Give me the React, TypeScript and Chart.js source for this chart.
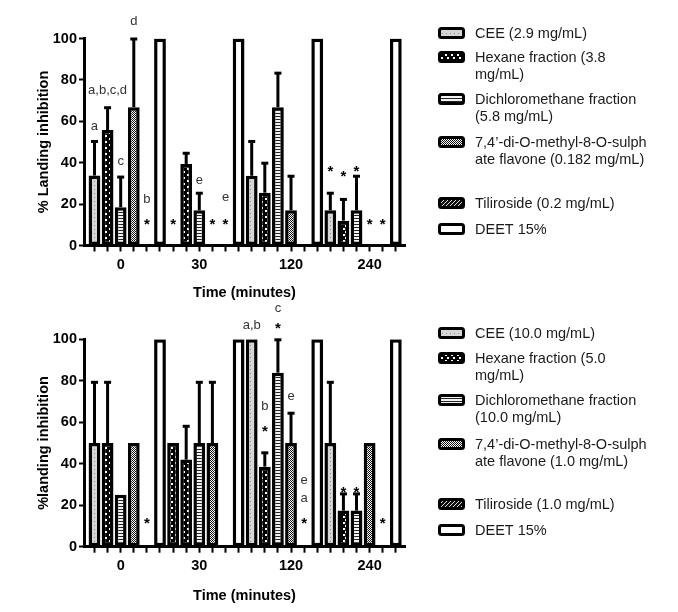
import React, { useEffect, useRef } from 'react';
import { Chart, registerables } from 'chart.js';

Chart.register(...registerables);

// ---------- data ----------
const TIME_GROUPS = ['0', '30', '120', '240'];
const GROUP_LABEL_SLOTS = [2, 8, 15, 21];

const TOP_LEGEND = [
  ['CEE (2.9 mg/mL)'],
  ['Hexane fraction (3.8', 'mg/mL)'],
  ['Dichloromethane fraction', '(5.8 mg/mL)'],
  ['7,4\u2019-di-O-methyl-8-O-sulph', 'ate flavone (0.182 mg/mL)'],
  ['Tiliroside (0.2 mg/mL)'],
  ['DEET 15%'],
];
const BOTTOM_LEGEND = [
  ['CEE (10.0 mg/mL)'],
  ['Hexane fraction (5.0', 'mg/mL)'],
  ['Dichloromethane fraction', '(10.0 mg/mL)'],
  ['7,4\u2019-di-O-methyl-8-O-sulph', 'ate flavone (1.0 mg/mL)'],
  ['Tiliroside (1.0 mg/mL)'],
  ['DEET 15%'],
];

// top panel values (per time group)
const TOP_CEE = [33.8, 0, 33.7, 17];
const TOP_HEX = [55.8, 39.4, 25.5, 12];
const TOP_DCM = [18.5, 17, 66.8, 17];
const TOP_FLA = [66.8, 0, 17, 0];
const TOP_TIL = [0, 0, 0, 0];
const TOP_DEET = [100, 100, 100, 100];
// upper error (value reached by error bar)
const TOP_CEE_ERR = [50.5, null, 50.5, 25.5];
const TOP_HEX_ERR = [66.8, 44.8, 40, 22.5];
const TOP_DCM_ERR = [33.3, 25.5, 83.5, 33.7];
const TOP_FLA_ERR = [100, null, 33.7, null];

// bottom panel values
const BOT_CEE = [50, 50, 100, 50];
const BOT_HEX = [50, 42, 38.6, 17.4];
const BOT_DCM = [25, 50, 83.9, 17.4];
const BOT_FLA = [50, 50, 50, 50];
const BOT_TIL = [0, 0, 0, 0];
const BOT_DEET = [100, 100, 100, 100];
const BOT_CEE_ERR = [79.5, null, null, 79.5];
const BOT_HEX_ERR = [79.5, 58.3, 45.5, 25.7];
const BOT_DCM_ERR = [null, 79.5, 100, 25.7];
const BOT_FLA_ERR = [null, 79.5, 64.6, null];

// annotations: series index, group index, text, value level
const TOP_NOTES = [
  { s: 0, g: 0, t: 'a', v: 58 },
  { s: 1, g: 0, t: 'a,b,c,d', v: 75 },
  { s: 2, g: 0, t: 'c', v: 41 },
  { s: 3, g: 0, t: 'd', v: 108.6 },
  { s: 4, g: 0, t: 'b', v: 22.5 },
  { s: 4, g: 0, t: '*', v: 12.3 },
  { s: 0, g: 1, t: '*', v: 12.3 },
  { s: 2, g: 1, t: 'e', v: 31.6 },
  { s: 3, g: 1, t: '*', v: 12.3 },
  { s: 4, g: 1, t: 'e', v: 23.6 },
  { s: 4, g: 1, t: '*', v: 12.3 },
  { s: 0, g: 3, t: '*', v: 38 },
  { s: 1, g: 3, t: '*', v: 35.7 },
  { s: 2, g: 3, t: '*', v: 38 },
  { s: 3, g: 3, t: '*', v: 12.3 },
  { s: 4, g: 3, t: '*', v: 12.3 },
];
const BOT_NOTES = [
  { s: 4, g: 0, t: '*', v: 13.4 },
  { s: 0, g: 2, t: 'a,b', v: 107 },
  { s: 1, g: 2, t: 'b', v: 68 },
  { s: 1, g: 2, t: '*', v: 57.8 },
  { s: 2, g: 2, t: 'c', v: 115.4 },
  { s: 2, g: 2, t: '*', v: 107.4 },
  { s: 3, g: 2, t: 'e', v: 72.7 },
  { s: 4, g: 2, t: 'e', v: 32 },
  { s: 4, g: 2, t: 'a', v: 23.7 },
  { s: 4, g: 2, t: '*', v: 13.7 },
  { s: 1, g: 3, t: '*', v: 28.4 },
  { s: 2, g: 3, t: '*', v: 28.4 },
  { s: 4, g: 3, t: '*', v: 13.4 },
];

// ---------- patterns ----------
type Kind = 'cee' | 'hex' | 'dcm' | 'fla' | 'til' | 'deet';
const KINDS: Kind[] = ['cee', 'hex', 'dcm', 'fla', 'til', 'deet'];

function makePattern(ctx: CanvasRenderingContext2D, kind: Kind): CanvasPattern | string {
  if (kind === 'deet') return '#ffffff';
  const c = document.createElement('canvas');
  const g = c.getContext('2d')!;
  if (kind === 'cee') {
    c.width = 4; c.height = 4;
    g.fillStyle = '#d6d6d6'; g.fillRect(0, 0, 4, 4);
    g.fillStyle = '#8c8c8c'; g.fillRect(2, 1, 1, 1);
  } else if (kind === 'hex') {
    c.width = 6; c.height = 6;
    g.fillStyle = '#000'; g.fillRect(0, 0, 6, 6);
    g.fillStyle = '#fff'; g.fillRect(1, 0, 2, 2); g.fillRect(3, 3, 2, 2);
  } else if (kind === 'dcm') {
    c.width = 4; c.height = 3;
    g.fillStyle = '#f2f2f2'; g.fillRect(0, 0, 4, 3);
    g.fillStyle = '#222'; g.fillRect(0, 2, 4, 1);
  } else if (kind === 'fla') {
    c.width = 2; c.height = 2;
    g.fillStyle = '#fff'; g.fillRect(0, 0, 2, 2);
    g.fillStyle = '#111'; g.fillRect(0, 0, 1, 1); g.fillRect(1, 1, 1, 1);
  } else if (kind === 'til') {
    c.width = 4; c.height = 4;
    g.fillStyle = '#111'; g.fillRect(0, 0, 4, 4);
    g.fillStyle = '#ddd';
    for (let i = 0; i < 4; i++) g.fillRect(i, 3 - i, 1, 1);
  }
  return ctx.createPattern(c, 'repeat')!;
}

const FONT = "'Liberation Sans', Arial, sans-serif";

interface PanelProps {
  height: number;
  yTitle: string;
  values: number[][];
  errors: (number | null)[][];
  notes: { s: number; g: number; t: string; v: number }[];
  legend: string[][];
  legendY: number[];
  patternOverride?: { s: number; g: number; kind: Kind }[];
  xTitlePad: number;
  xAxisHeight: number;
  topPad: number;
}

const extrasPlugin = {
  id: 'extras',
  afterDatasetsDraw(chart: any, _args: any, opts: any) {
    const { ctx, scales } = chart;
    const xs = scales.x, ys = scales.y;
    ctx.save();
    // error bars
    ctx.strokeStyle = '#000';
    ctx.lineWidth = 3;
    ctx.lineCap = 'butt';
    opts.values.forEach((vals: number[], s: number) => {
      vals.forEach((v: number, g: number) => {
        const e = opts.errors[s] ? opts.errors[s][g] : null;
        if (e == null) return;
        const x = xs.getPixelForValue(g * 6 + s);
        const y0 = ys.getPixelForValue(v);
        const y1 = ys.getPixelForValue(e);
        ctx.beginPath();
        ctx.moveTo(x, y0);
        ctx.lineTo(x, y1);
        ctx.stroke();
        ctx.beginPath();
        ctx.moveTo(x - 3.5, y1 + 0.5);
        ctx.lineTo(x + 3.5, y1 + 0.5);
        ctx.stroke();
      });
    });
    // notes
    opts.notes.forEach((n: any) => {
      const x = xs.getPixelForValue(n.g * 6 + n.s);
      const y = ys.getPixelForValue(n.v);
      ctx.textAlign = 'center';
      ctx.textBaseline = 'alphabetic';
      if (n.t === '*') {
        ctx.font = `bold 15px ${FONT}`;
        ctx.fillStyle = '#000';
        ctx.fillText('*', x, y + 0.62 * 15);
      } else {
        ctx.font = `13px ${FONT}`;
        ctx.fillStyle = '#333';
        ctx.fillText(n.t, x, y + 0.32 * 13);
      }
    });
    ctx.restore();
  },
  afterDraw(chart: any, _args: any, opts: any) {
    const { ctx } = chart;
    ctx.save();
    const sx = 438, sw = 27, sh = 9, tx = 475, lh = 17;
    opts.legend.forEach((lines: string[], i: number) => {
      const y = opts.legendY[i];
      const fill = makePattern(ctx, KINDS[i]);
      ctx.beginPath();
      ctx.roundRect(sx + 1.5, y - sh / 2, sw - 3, sh, 2);
      ctx.fillStyle = fill;
      ctx.fill();
      ctx.lineWidth = 3;
      ctx.strokeStyle = '#000';
      ctx.stroke();
      ctx.fillStyle = '#1a1a1a';
      ctx.font = `14.5px ${FONT}`;
      ctx.textAlign = 'left';
      ctx.textBaseline = 'middle';
      lines.forEach((ln, k) => ctx.fillText(ln, tx, y + k * lh + 1));
    });
    ctx.restore();
  },
};

function Panel(p: PanelProps) {
  const ref = useRef<HTMLCanvasElement | null>(null);
  useEffect(() => {
    const canvas = ref.current!;
    const ctx = canvas.getContext('2d')!;
    const pats = KINDS.map((k) => makePattern(ctx, k));
    const datasets = p.values.map((vals, s) => {
      const bg = vals.map((_, g) => {
        const o = (p.patternOverride || []).find((q) => q.s === s && q.g === g);
        return o ? makePattern(ctx, o.kind) : pats[s];
      });
      return {
        label: p.legend[s].join(' '),
        data: vals.map((v, g) => ({ x: g * 6 + s, y: v === 0 ? null : v })),
        backgroundColor: bg,
        borderColor: '#000',
        borderWidth: 3.5,
        borderSkipped: false,
        grouped: false,
        categoryPercentage: 1,
        barPercentage: 0.9,
      };
    });
    const chart = new Chart(canvas, {
      type: 'bar',
      data: { datasets: datasets as any },
      plugins: [extrasPlugin as any],
      options: {
        animation: false,
        responsive: false,
        layout: { padding: { left: 0, right: 273, top: p.topPad, bottom: 0 } },
        plugins: {
          legend: { display: false },
          tooltip: { enabled: false },
          extras: {
            values: p.values,
            errors: p.errors,
            notes: p.notes,
            legend: p.legend,
            legendY: p.legendY,
          },
        } as any,
        scales: {
          x: {
            type: 'linear',
            min: -0.8,
            max: 23.7,
            offset: false,
            afterBuildTicks: (scale: any) => {
              scale.ticks = Array.from({ length: 24 }, (_, i) => ({ value: i }));
            },
            afterFit: (scale: any) => {
              scale.height = p.xAxisHeight;
            },
            ticks: {
              autoSkip: false,
              maxRotation: 0,
              minRotation: 0,
              padding: 5,
              color: '#000',
              font: { family: FONT, size: 14.5, weight: 'bold' },
              callback: (value: any) => {
                const k = GROUP_LABEL_SLOTS.indexOf(Number(value));
                return k >= 0 ? TIME_GROUPS[k] : '';
              },
            },
            grid: {
              display: true,
              drawOnChartArea: false,
              drawTicks: true,
              tickLength: 6,
              tickWidth: 2,
              tickColor: '#000',
              offset: false,
            },
            border: { display: true, color: '#000', width: 3 },
            title: {
              display: true,
              text: 'Time (minutes)',
              color: '#000',
              font: { family: FONT, size: 14.5, weight: 'bold', lineHeight: 1 },
              padding: { top: 0, bottom: p.xTitlePad },
            },
          } as any,
          y: {
            min: 0,
            max: 100,
            afterFit: (scale: any) => {
              scale.width = 84;
            },
            ticks: {
              stepSize: 20,
              padding: 2,
              color: '#000',
              font: { family: FONT, size: 14.5, weight: 'bold' },
            },
            grid: {
              display: true,
              drawOnChartArea: false,
              drawTicks: true,
              tickLength: 5,
              tickWidth: 2,
              tickColor: '#000',
            },
            border: { display: true, color: '#000', width: 3 },
            title: {
              display: true,
              text: p.yTitle,
              color: '#000',
              font: { family: FONT, size: 14.5, weight: 'bold', lineHeight: 1 },
              padding: { top: 37, bottom: 0 },
            },
          } as any,
        },
      },
    });
    return () => chart.destroy();
  }, []);
  return <canvas ref={ref} width={678} height={p.height} style={{ display: 'block' }} />;
}

export default function App() {
  useEffect(() => {
    document.body.style.margin = '0';
  }, []);
  return (
    <div style={{ width: 678, background: '#fff' }}>
      <Panel
        height={300}
        yTitle="% Landing inhibition"
        values={[TOP_CEE, TOP_HEX, TOP_DCM, TOP_FLA, TOP_TIL, TOP_DEET]}
        errors={[TOP_CEE_ERR, TOP_HEX_ERR, TOP_DCM_ERR, TOP_FLA_ERR, [], []]}
        notes={TOP_NOTES}
        legend={TOP_LEGEND}
        legendY={[33, 57, 99, 142, 203, 229]}
        xTitlePad={0}
        xAxisHeight={54.5}
        topPad={38.5}
      />
      <Panel
        height={312}
        yTitle="%landing inhibition"
        values={[BOT_CEE, BOT_HEX, BOT_DCM, BOT_FLA, BOT_TIL, BOT_DEET]}
        errors={[BOT_CEE_ERR, BOT_HEX_ERR, BOT_DCM_ERR, BOT_FLA_ERR, [], []]}
        notes={BOT_NOTES}
        legend={BOTTOM_LEGEND}
        legendY={[33, 58, 100, 144, 204, 230]}
        patternOverride={[{ s: 0, g: 1, kind: 'hex' }]}
        xTitlePad={9}
        xAxisHeight={65.3}
        topPad={39.3}
      />
    </div>
  );
}
